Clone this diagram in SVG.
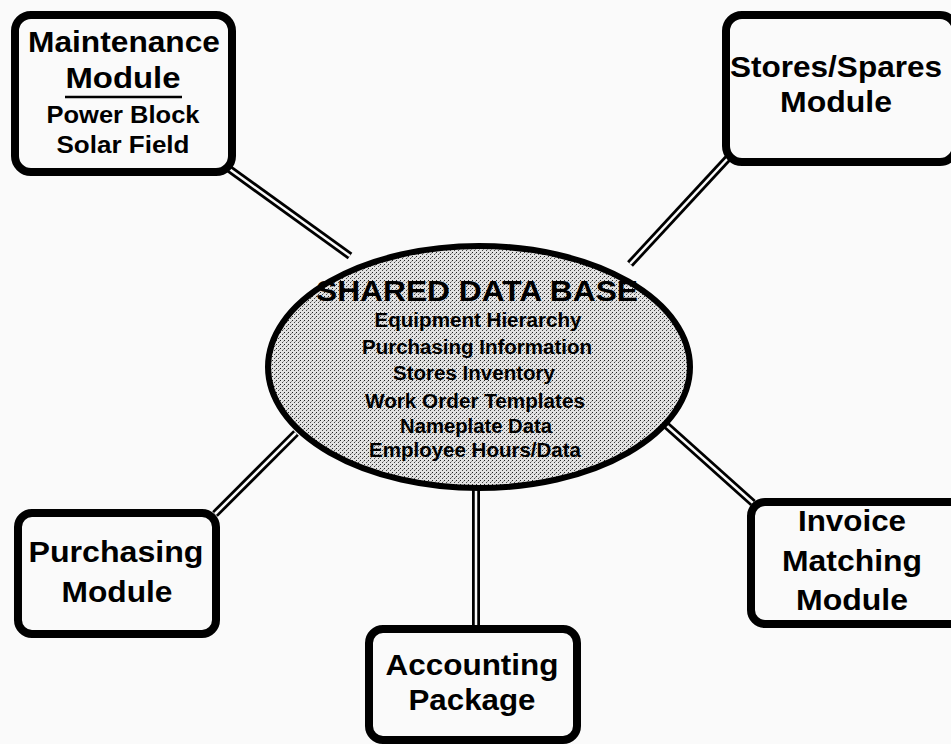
<svg xmlns="http://www.w3.org/2000/svg" width="951" height="744" viewBox="0 0 951 744">
<defs>
<pattern id="dither" width="4" height="4" patternUnits="userSpaceOnUse">
<rect width="4" height="4" fill="#e2e2e2"/>
<rect x="0" y="0" width="1" height="1" fill="#222"/>
<rect x="2" y="2" width="1" height="1" fill="#444"/>
<rect x="3" y="1" width="1" height="1" fill="#999"/>
</pattern>
</defs>
<style>
.box{fill:#fafafa;stroke:#000;stroke-width:8}
.t{font-family:"Liberation Sans",Arial,sans-serif;font-weight:bold;fill:#000;text-anchor:middle}
.big{font-size:29px}
.mid{font-size:23px}
.db{font-size:20px}
.outer{stroke:#000;stroke-width:8;fill:none}
.inner{stroke:#fafafa;stroke-width:2.5;fill:none}
</style>
<rect width="951" height="744" fill="#fafafa"/>
<g id="connectors">
<line class="outer" x1="228" y1="168" x2="350" y2="256"/>
<line class="inner" x1="228" y1="168" x2="350" y2="256"/>
<line class="outer" x1="730" y1="156" x2="630" y2="264"/>
<line class="inner" x1="730" y1="156" x2="630" y2="264"/>
<line class="outer" x1="215" y1="514" x2="296" y2="433"/>
<line class="inner" x1="215" y1="514" x2="296" y2="433"/>
<line class="outer" x1="753" y1="503" x2="666" y2="425"/>
<line class="inner" x1="753" y1="503" x2="666" y2="425"/>
<line class="outer" x1="476" y1="488" x2="476" y2="628"/>
<line class="inner" x1="476" y1="488" x2="476" y2="628"/>
</g>
<g id="shared-data-base">
<ellipse cx="479" cy="367" rx="211" ry="121" fill="url(#dither)" stroke="#000" stroke-width="6"/>
<text class="t" x="477" y="301" font-size="29" textLength="322" lengthAdjust="spacingAndGlyphs">SHARED DATA BASE</text>
<text class="t db" x="478" y="327" textLength="207" lengthAdjust="spacingAndGlyphs">Equipment Hierarchy</text>
<text class="t db" x="477" y="354" textLength="230" lengthAdjust="spacingAndGlyphs">Purchasing Information</text>
<text class="t db" x="474" y="380" textLength="162" lengthAdjust="spacingAndGlyphs">Stores Inventory</text>
<text class="t db" x="475" y="408" textLength="220" lengthAdjust="spacingAndGlyphs">Work Order Templates</text>
<text class="t db" x="476" y="433" textLength="152" lengthAdjust="spacingAndGlyphs">Nameplate Data</text>
<text class="t db" x="475" y="457" textLength="212" lengthAdjust="spacingAndGlyphs">Employee Hours/Data</text>
</g>
<g id="maintenance">
<rect class="box" x="15" y="15" width="217" height="157" rx="16"/>
<text class="t big" x="124" y="52" textLength="192" lengthAdjust="spacingAndGlyphs">Maintenance</text>
<text class="t big" x="123" y="88" textLength="115" lengthAdjust="spacingAndGlyphs">Module</text>
<line x1="65" y1="97" x2="182" y2="97" stroke="#000" stroke-width="2.5"/>
<text class="t mid" x="123" y="123" textLength="153" lengthAdjust="spacingAndGlyphs">Power Block</text>
<text class="t mid" x="123" y="153" textLength="133" lengthAdjust="spacingAndGlyphs">Solar Field</text>
</g>
<g id="stores">
<rect class="box" x="726" y="15" width="230" height="147" rx="16"/>
<text class="t big" x="836" y="77" textLength="212" lengthAdjust="spacingAndGlyphs">Stores/Spares</text>
<text class="t big" x="836" y="112" textLength="112" lengthAdjust="spacingAndGlyphs">Module</text>
</g>
<g id="purchasing">
<rect class="box" x="18" y="513" width="198" height="121" rx="14"/>
<text class="t big" x="116" y="562" textLength="175" lengthAdjust="spacingAndGlyphs">Purchasing</text>
<text class="t big" x="117" y="602" textLength="111" lengthAdjust="spacingAndGlyphs">Module</text>
</g>
<g id="invoice">
<rect class="box" x="751" y="502" width="220" height="122" rx="14"/>
<text class="t big" x="852" y="531" textLength="108" lengthAdjust="spacingAndGlyphs">Invoice</text>
<text class="t big" x="852" y="571" textLength="140" lengthAdjust="spacingAndGlyphs">Matching</text>
<text class="t big" x="852" y="610" textLength="112" lengthAdjust="spacingAndGlyphs">Module</text>
</g>
<g id="accounting">
<rect class="box" x="369" y="629" width="208" height="111" rx="14"/>
<text class="t big" x="472" y="675" textLength="173" lengthAdjust="spacingAndGlyphs">Accounting</text>
<text class="t big" x="472" y="710" textLength="127" lengthAdjust="spacingAndGlyphs">Package</text>
</g>
</svg>
